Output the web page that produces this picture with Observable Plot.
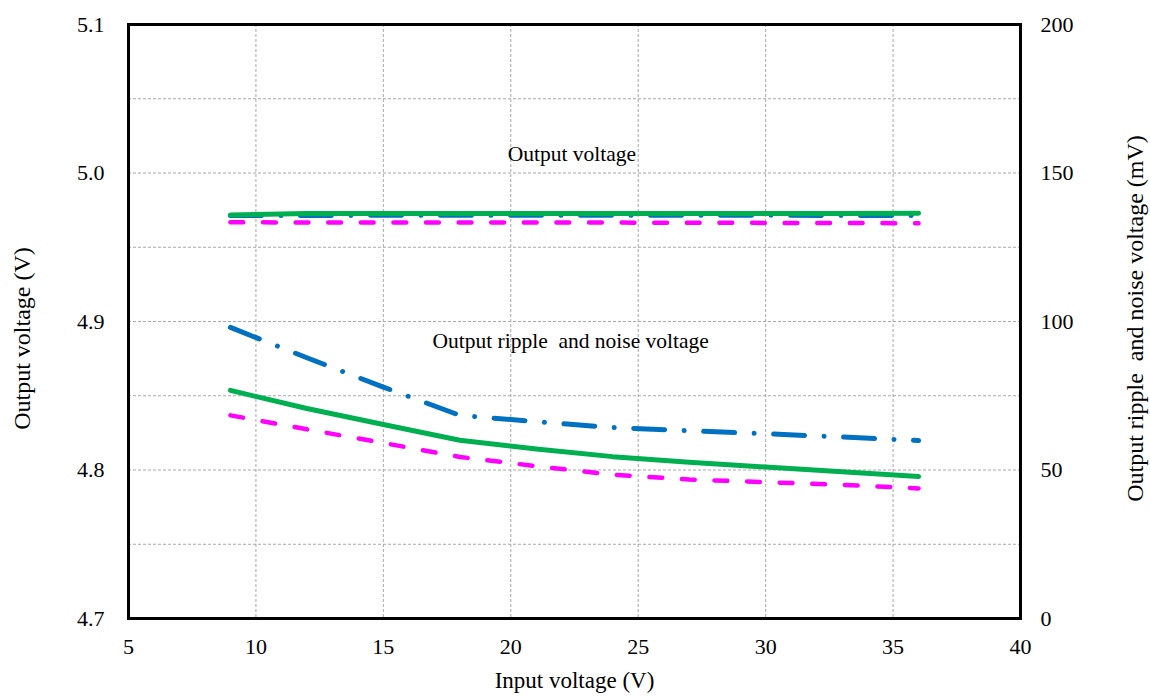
<!DOCTYPE html>
<html>
<head>
<meta charset="utf-8">
<script src="https://cdn.jsdelivr.net/npm/d3@7"></script>
<script src="https://cdn.jsdelivr.net/npm/@observablehq/plot@0.6"></script>
<style>
  body { margin: 0; background: #fff; }
  #chart svg { display: block; }
</style>
</head>
<body>
<div id="chart"></div>
<script>
// ---- Data ----
const inputVoltage = [9, 12, 15, 18, 21, 24, 27, 30, 33, 36];

// Output voltage (V), left axis
const outputVoltageGreen   = [4.9718, 4.9727, 4.9728, 4.9728, 4.9728, 4.9728, 4.9728, 4.9728, 4.9728, 4.9729];
const outputVoltageBlue    = [4.9714, 4.9714, 4.9715, 4.9715, 4.9715, 4.9715, 4.9715, 4.9715, 4.9714, 4.9714];
const outputVoltageMagenta = [4.9668, 4.9667, 4.9667, 4.9667, 4.9666, 4.9666, 4.9665, 4.9664, 4.9663, 4.9662];

// Output ripple and noise voltage (mV), right axis
const rippleGreen   = [76.8, 70.7, 65.3, 60.0, 57.1, 54.5, 52.6, 51.0, 49.4, 47.8];
const rippleBlue    = [98.0, 87.8, 77.9, 68.4, 66.3, 64.3, 63.2, 62.2, 61.1, 59.9];
const rippleMagenta = [68.4, 63.7, 59.1, 54.4, 51.3, 48.4, 46.8, 45.9, 45.0, 43.8];

// Ticks
const xTicks = [5, 10, 15, 20, 25, 30, 35, 40];
const leftTicks = [4.7, 4.8, 4.9, 5.0, 5.1];
const rightTicks = [0, 50, 100, 150, 200];
const xGrid = [10, 15, 20, 25, 30, 35];
const yGrid = [4.75, 4.8, 4.85, 4.9, 4.95, 5.0, 5.05];

// Annotations
const annotationText = ["Output voltage", "Output ripple  and noise voltage"];
const annotationX = [22.4, 22.35];
const annotationY = [5.0127, 4.8865];

// Right axis (0–200 mV) mapped onto left axis (4.7–5.1 V)
const leftDomain = [4.7, 5.1];
const rightDomain = [0, 200];
const mvToV = mv => leftDomain[0] + (mv - rightDomain[0]) * (leftDomain[1] - leftDomain[0]) / (rightDomain[1] - rightDomain[0]);
const vToMv = v => rightDomain[0] + (v - leftDomain[0]) * (rightDomain[1] - rightDomain[0]) / (leftDomain[1] - leftDomain[0]);

const toRows = values => inputVoltage.map((x, i) => ({x, y: values[i]}));
const toRowsMv = values => inputVoltage.map((x, i) => ({x, y: mvToV(values[i])}));
const annotations = annotationText.map((t, i) => ({text: t, x: annotationX[i], y: annotationY[i]}));

const GREEN = "#00B050", BLUE = "#0070C0", MAGENTA = "#FF00FF";
const dashDot = "31,19.5,0.01,19.5";
const dash = "12.8,19.8";

const chart = Plot.plot({
  width: 1150,
  height: 697,
  marginLeft: 128,
  marginRight: 130,
  marginTop: 24,
  marginBottom: 79,
  style: {fontFamily: "'Liberation Serif', 'Times New Roman', serif", fontSize: "22px", color: "#000", background: "#fff"},
  x: {domain: [5, 40]},
  y: {domain: leftDomain},
  marks: [
    Plot.gridX(xGrid, {stroke: "#a8a8a8", strokeOpacity: 1, strokeDasharray: "3,2"}),
    Plot.gridY(yGrid, {stroke: "#a8a8a8", strokeOpacity: 1, strokeDasharray: "3,2"}),
    Plot.axisX(xTicks, {anchor: "bottom", tickSize: 0, tickPadding: 20, label: null, fontSize: 22}),
    Plot.axisY(leftTicks, {anchor: "left", tickSize: 0, tickPadding: 24, tickFormat: d => d.toFixed(1), label: null, fontSize: 22}),
    Plot.axisY(rightTicks.map(mvToV), {anchor: "right", tickSize: 0, tickPadding: 20, tickFormat: v => String(Math.round(vToMv(v))), label: null, fontSize: 22}),

    // ripple (right axis)
    Plot.line(toRowsMv(rippleMagenta), {x: "x", y: "y", stroke: MAGENTA, strokeWidth: 4.5, strokeDasharray: dash, strokeLinecap: "round"}),
    Plot.line(toRowsMv(rippleBlue), {x: "x", y: "y", stroke: BLUE, strokeWidth: 5, strokeDasharray: dashDot, strokeLinecap: "round"}),
    Plot.line(toRowsMv(rippleGreen), {x: "x", y: "y", stroke: GREEN, strokeWidth: 5, strokeLinecap: "round"}),

    // output voltage (left axis)
    Plot.line(toRows(outputVoltageMagenta), {x: "x", y: "y", stroke: MAGENTA, strokeWidth: 4.5, strokeDasharray: dash, strokeLinecap: "round"}),
    Plot.line(toRows(outputVoltageBlue), {x: "x", y: "y", stroke: BLUE, strokeWidth: 5, strokeDasharray: dashDot, strokeLinecap: "round"}),
    Plot.line(toRows(outputVoltageGreen), {x: "x", y: "y", stroke: GREEN, strokeWidth: 5, strokeLinecap: "round"}),

    Plot.frame({stroke: "#000", strokeWidth: 3}),

    Plot.text(annotations, {x: "x", y: "y", text: "text", fontSize: 21.5, fill: "#000"}),

    // axis titles
    Plot.text(["Input voltage (V)"], {frameAnchor: "bottom", textAnchor: "middle", lineAnchor: "middle", dy: 62, fontSize: 23, fill: "#000"}),
    Plot.text(["Output voltage (V)"], {frameAnchor: "left", textAnchor: "middle", lineAnchor: "middle", dx: -106, dy: 17, rotate: -90, fontSize: 24, fill: "#000"}),
    Plot.text(["Output ripple  and noise voltage (mV)"], {frameAnchor: "right", textAnchor: "middle", lineAnchor: "middle", dx: 115, dy: -3, rotate: -90, fontSize: 24, fill: "#000"})
  ]
});

document.getElementById("chart").appendChild(chart);
</script>
</body>
</html>
